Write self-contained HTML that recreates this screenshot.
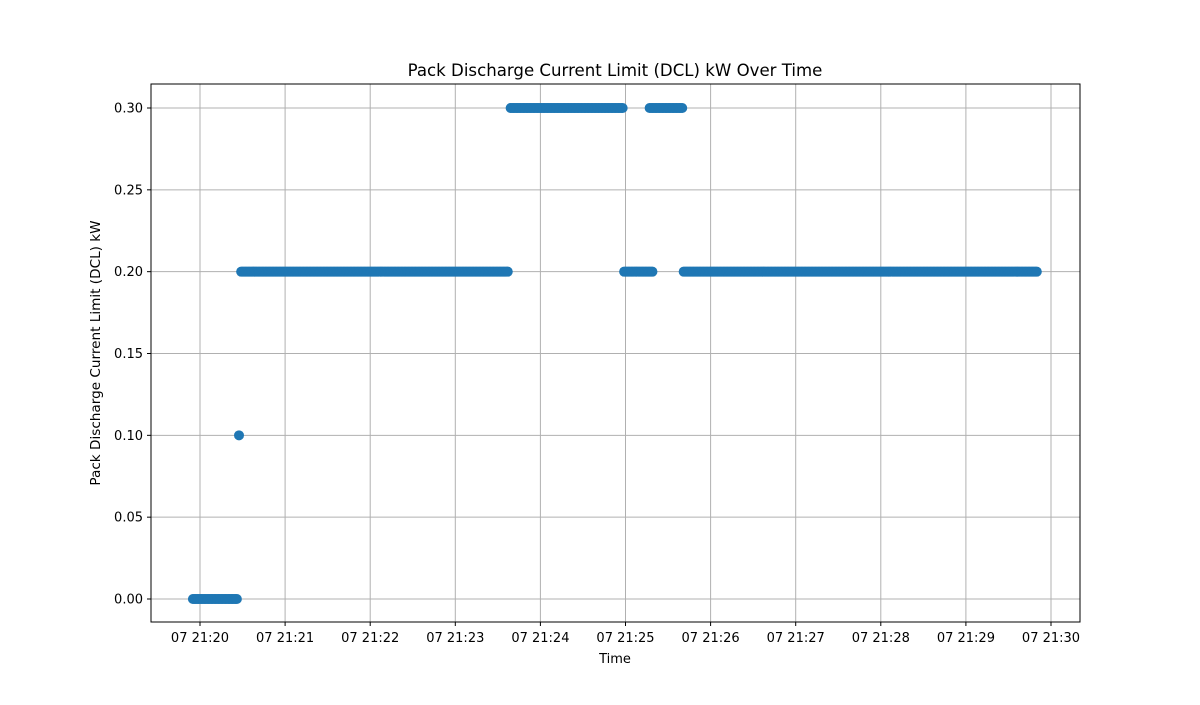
<!DOCTYPE html>
<html><head><meta charset="utf-8"><style>
body{margin:0;background:#fff;font-family:"Liberation Sans","DejaVu Sans",sans-serif}
text{font-family:"DejaVu Sans","Liberation Sans",sans-serif}
</style></head><body>
<svg id="chart" width="1200" height="700">
<rect width="1200" height="700" fill="#fff"/>
<g id="grid"></g>
<g id="marks"></g>
<rect x="151" y="84" width="929" height="538" fill="none" stroke="#000" stroke-width="1"/>
<g id="axes"></g>
<text x="615" y="76" text-anchor="middle" font-size="16.6">Pack Discharge Current Limit (DCL) kW Over Time</text>
<text x="615" y="663" text-anchor="middle" font-size="13">Time</text>
<text transform="translate(100,353) rotate(-90)" text-anchor="middle" font-size="13.6">Pack Discharge Current Limit (DCL) kW</text>
</svg>
<script>
// segments: seconds after 21:20:00
const segStart=[-5,27.5,29,219,299,317,341];
const segEnd=[26,27.5,217,298,319,340,590];
const segValue=[0,0.1,0.2,0.3,0.2,0.3,0.2];
const xTickLabels=["07 21:20","07 21:21","07 21:22","07 21:23","07 21:24","07 21:25","07 21:26","07 21:27","07 21:28","07 21:29","07 21:30"];
const yTicks=[0,0.05,0.1,0.15,0.2,0.25,0.3];
const NS="http://www.w3.org/2000/svg";
function xs(t){return 200+t*(851/600);}
function ys(v){return 599-v*(491/0.3);}
const grid=document.getElementById('grid'),axes=document.getElementById('axes'),marks=document.getElementById('marks');
function mk(tag,at,p){const e=document.createElementNS(NS,tag);for(const k in at)e.setAttribute(k,at[k]);p.appendChild(e);return e;}
xTickLabels.forEach((l,i)=>{const x=xs(i*60);
 const g=mk('line',{x1:x,x2:x,y1:84,y2:622,stroke:'#b0b0b0','stroke-width':1},grid);
 
 
 const t=mk('line',{x1:x,x2:x,y1:622,y2:626,stroke:'#000'},axes);
 
 
 const tx=mk('text',{x:x,y:642,'text-anchor':'middle','font-size':13},axes);tx.textContent=l;
 
 
});
yTicks.forEach(v=>{const y=ys(v);
 const g=mk('line',{x1:151,x2:1080,y1:y,y2:y,stroke:'#b0b0b0','stroke-width':1},grid);
 
 
 const t=mk('line',{x1:147,x2:151,y1:y,y2:y,stroke:'#000'},axes);
 
 
 const tx=mk('text',{x:143,y:y+4.5,'text-anchor':'end','font-size':13},axes);tx.textContent=v.toFixed(2);
 
 
});
segStart.forEach((s,i)=>{
 for(let t=s;t<=segEnd[i]+0.001;t+=1){
  const c=mk('circle',{cx:xs(t),cy:ys(segValue[i]),r:5,fill:'#1f77b4'},marks);
  
  
 }
});
</script>
</body></html>
